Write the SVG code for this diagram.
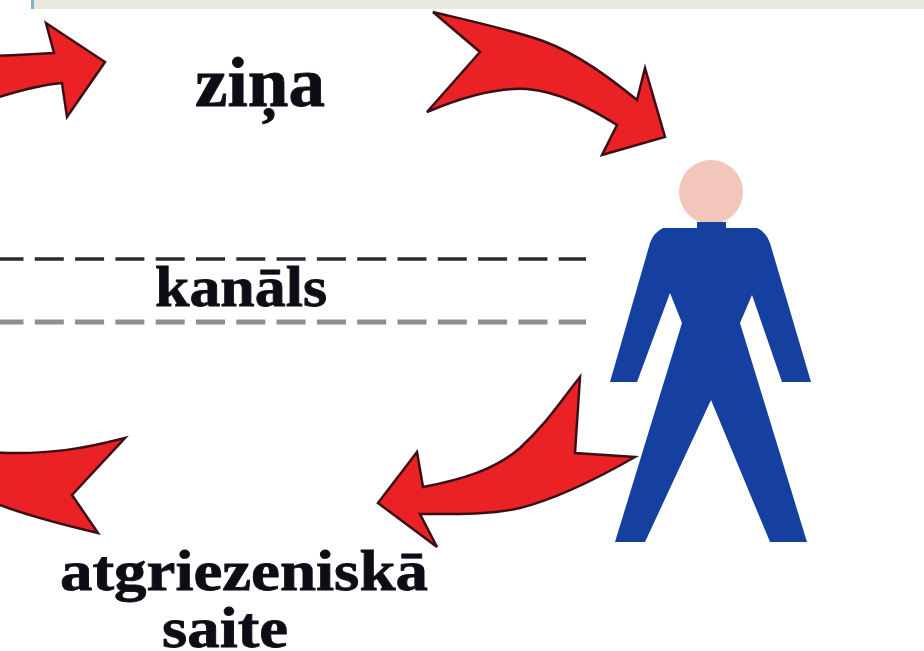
<svg xmlns="http://www.w3.org/2000/svg" width="924" height="651" viewBox="0 0 924 651">
<style>
.arrow{fill:#ea2226;stroke:#3c1014;stroke-width:2.5;stroke-linejoin:miter}
.label{font-family:"Liberation Serif","Times New Roman",serif;font-weight:bold;fill:#0c0c14;stroke:#0c0c14;stroke-width:0.8;text-anchor:middle}
.soft{filter:url(#soft)}
</style>
<defs>
<filter id="soft" x="-5%" y="-5%" width="110%" height="110%"><feGaussianBlur stdDeviation="0.7"/></filter>
</defs>
<rect width="924" height="651" fill="#fff"/>
<g id="top-band">
<rect x="34" y="0" width="890" height="9" fill="#e8e8de"/>
<rect x="31" y="0" width="3" height="9" fill="#7fb0c8"/>
</g>
<g id="connectors" class="soft">
<path class="arrow" d="M-10 56 C20 55 38 54 54 53 L46 23 L105 62 L67 117 L62 83 C40 85 20 90 -10 100 Z"/>
<path class="arrow" d="M433 12 C475 22 512 30 543 41 C578 54 610 78 637 100 L645 68 L665 137 L602 155 L617 125 C590 108 560 92 527 89 C495 87 460 98 427 112 L480 52 Z"/>
<path class="arrow" d="M580 377 C560 402 548 422 520 448 C495 470 460 480 423 487 L417 452 L378 503 L437 547 L420 514 C450 514 490 515 520 508 C560 498 600 477 635 457 L575 453 Z"/>
<path class="arrow" d="M125 438 C90 447 50 456 -10 452 L-10 501 C20 514 60 524 98 533 L72 495 Z"/>
</g>
<g id="channel-lines" class="soft">
<line x1="-5.5" y1="259" x2="586" y2="259" stroke="#2a2a2a" stroke-width="3.5" stroke-dasharray="29 11.3"/>
<line x1="-5.5" y1="322" x2="586" y2="322" stroke="#8e8e8e" stroke-width="5" stroke-dasharray="29 11.3"/>
</g>
<g id="person" class="soft">
<circle cx="711" cy="192" r="32" fill="#f3c6bb"/>
<path fill="#1440a0" d="M697 222 H726 V228 H757 Q766 232 770 243 L811 382 H782 L752 295 L740 323 L807 542 H770 L711 400 L645 542 H615 L682 323 L670 293 L637 382 H610 L650 243 Q654 232 663 228 H697 Z"/>
</g>
<g id="label-zina" class="soft"><text class="label" x="260" y="106" font-size="70" textLength="130" lengthAdjust="spacingAndGlyphs">ziņa</text></g>
<g id="label-kanals" class="soft"><text class="label" x="241" y="306" font-size="56" textLength="172" lengthAdjust="spacingAndGlyphs">kanāls</text></g>
<g id="label-feedback" class="soft">
<text class="label" x="244" y="590" font-size="56" textLength="368" lengthAdjust="spacingAndGlyphs">atgriezeniskā</text>
<text class="label" x="225" y="647" font-size="56" textLength="126" lengthAdjust="spacingAndGlyphs">saite</text>
</g>
</svg>
